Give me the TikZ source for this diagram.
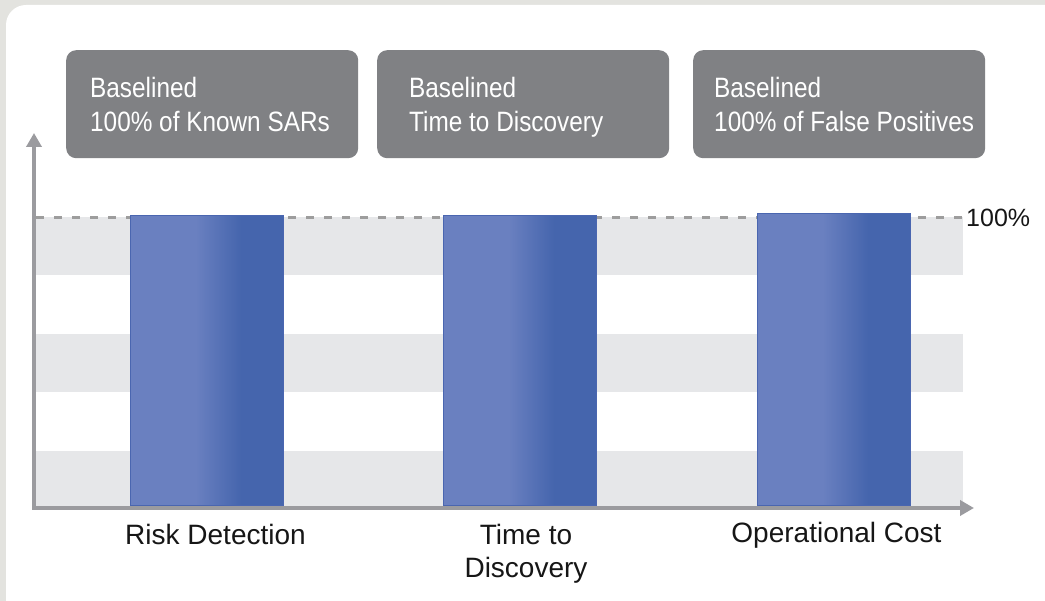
\documentclass[tikz,border=0pt]{standalone}
\usepackage{fontspec}
\setmainfont{Liberation Sans}
\newfontfamily\boxfont[FakeStretch=0.87]{Liberation Sans}
\usetikzlibrary{arrows.meta}
\definecolor{outerbg}{HTML}{E3E3DF}
\definecolor{boxgray}{HTML}{808184}
\definecolor{bandgray}{HTML}{E6E7E9}
\definecolor{axisgray}{HTML}{9B9B9F}
\definecolor{dashgray}{HTML}{9D9D9D}
\definecolor{barL}{HTML}{6A80C0}
\definecolor{barD}{HTML}{4565AD}
\definecolor{barE}{HTML}{4A66B0}
\definecolor{labelblack}{HTML}{161616}
\tikzset{
  infobox/.style={fill=boxgray, rounded corners=10pt, minimum width=292pt, minimum height=108pt, inner sep=0pt, anchor=north west},
  boxtext/.style={text=white, font=\boxfont\fontsize{28}{34}\selectfont, inner sep=0pt, anchor=base west},
  axislabel/.style={text=labelblack, font=\fontsize{28}{32}\selectfont, inner sep=0pt, anchor=base},
  band/.style={fill=bandgray},
  axisline/.style={draw=axisgray, line width=3.5pt, -{Triangle[length=14pt,width=15pt]}},
}
\newcommand\drawbar[3]{%
  \fill[barL] (#2,#3) rectangle (#2+66,506);
  \shade[left color=barL,right color=barD] (#2+65.5,#3) rectangle (#2+111,506);
  \fill[barD] (#2+110.5,#3) rectangle (#2+153,506);
  \path[draw=barE, line width=1pt] (#2,#3) rectangle (#2+153,506);
  \coordinate (#1) at (#2+76.5,506);
}
\begin{document}
\begin{tikzpicture}[x=1pt,y=-1pt]
\useasboundingbox (0,0) rectangle (1045,601);
% background
\fill[outerbg] (0,0) rectangle (1045,601);
\begin{scope}
\clip (0,0) rectangle (1045,601);
\fill[white, rounded corners=20pt] (6,5) rectangle (1065,621);
\end{scope}
% bands
\fill[band] (34,217) rectangle (963,275);
\fill[band] (34,334) rectangle (963,392);
\fill[band] (34,451) rectangle (963,507);
% dashed 100% line
\coordinate (dashL) at (36,217.5);
\coordinate (dashR) at (962,217.5);
\draw[dashgray, line width=3pt, dash pattern=on 8pt off 10pt] (dashL) -- (dashR);
\node[anchor=west, inner sep=0pt, text=labelblack, font=\fontsize{25}{30}\selectfont] (pct) at (966,218) {100\%};
% bars
\drawbar{bar1}{130}{216}
\drawbar{bar2}{443}{216}
\drawbar{bar3}{757}{214}
% axes
\coordinate (origin) at (34,510);
\coordinate (ytip) at (34,133);
\coordinate (xstart) at (32.25,508);
\coordinate (xtip) at (974,508);
\draw[axisline] (origin) -- (ytip);
\draw[axisline] (xstart) -- (xtip);
% info boxes
\node[infobox] (box1) at (66,50) {};
\node[infobox] (box2) at (377,50) {};
\node[infobox] (box3) at (693,50) {};
\node[boxtext] (b1a) at (90,98) {Baselined};
\node[boxtext] (b1b) at (90,132) {100\% of Known SARs};
\node[boxtext] (b2a) at (409,98) {Baselined};
\node[boxtext] (b2b) at (409,132) {Time to Discovery};
\node[boxtext] (b3a) at (714,98) {Baselined};
\node[boxtext] (b3b) at (714,132) {100\% of False Positives};
% axis labels
\node[axislabel] (l1) at (215.5,545) {Risk Detection};
\node[axislabel] (l2a) at (526,545) {Time to};
\node[axislabel] (l2b) at (526,577) {Discovery};
\node[axislabel] (l3) at (836.5,543) {Operational Cost};
\end{tikzpicture}
\end{document}
